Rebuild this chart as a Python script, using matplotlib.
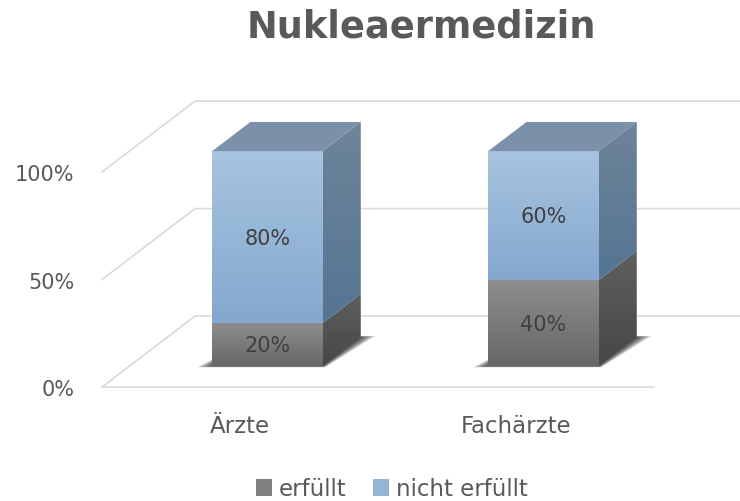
import numpy as np
import matplotlib.pyplot as plt
from matplotlib.patches import Polygon, Patch
from matplotlib.colors import LinearSegmentedColormap

# data
categories = ["Ärzte", "Fachärzte"]
erfuellt = [20, 40]
nicht_erfuellt = [80, 60]
series_names = ["erfüllt", "nicht erfüllt"]
y_ticks = [0, 50, 100]
tick_labels = ["0%", "50%", "100%"]

# fake 3d: how far one unit of depth shifts in data units
DX = 0.337
DY = 33.0
BAR_W = 0.4
D_FRONT, D_BACK = 0.295, 0.705

gray = {"front": ("#8e8e8e", "#676767"), "side": ("#5f5f5f", "#474747"), "top": "#727272"}
blue = {"front": ("#a7c4e0", "#84a8ce"), "side": ("#6e8499", "#557593"), "top": "#7b91aa"}


def proj(x, v, d):
    return (x + DX * d, v + DY * d)


def face(pts, c_top, c_bot, z):
    poly = Polygon(pts, closed=True, facecolor="none", edgecolor="none", zorder=z)
    ax.add_patch(poly)
    xs = [p[0] for p in pts]
    ys = [p[1] for p in pts]
    cmap = LinearSegmentedColormap.from_list("g", [c_bot, c_top])
    grad = np.linspace(0, 1, 128).reshape(-1, 1)
    im = ax.imshow(grad, cmap=cmap, extent=(min(xs), max(xs), min(ys), max(ys)),
                   origin="lower", aspect="auto", interpolation="bilinear", zorder=z)
    im.set_clip_path(poly)


fig = plt.figure(figsize=(7.4, 5.01), dpi=100)
ax = fig.add_axes([0, 0, 1, 1])
ax.axis("off")

# gridlines: left wall diagonal + back wall line
x_left = -0.5
x_right = len(categories) - 0.5
for v in y_ticks:
    a = proj(x_left, v, 0)
    b = proj(x_left, v, 1)
    c = proj(x_right, v, 1)
    ax.plot([a[0], b[0], c[0]], [a[1], b[1], c[1]], color="#dadada", lw=1.2, zorder=1)
a = proj(x_left, 0, 0)
b = proj(x_right, 0, 0)
ax.plot([a[0], b[0]], [a[1], b[1]], color="#dadada", lw=1.2, zorder=1)

# tick labels
for v, lbl in zip(y_ticks, tick_labels):
    ax.annotate(lbl, xy=proj(x_left, v, 0), xytext=(-20, -6.5), textcoords="offset points",
                ha="right", va="baseline", fontsize=15, color="#595959")

# bars
for i in range(len(categories)):
    x0, x1 = i - BAR_W / 2, i + BAR_W / 2

    # soft shadow on the floor, many faint layers
    n = 14
    for k in range(n):
        e = 0.05 * (n - k) / n
        pts = [proj(x0 - e, 0, D_FRONT - e * 0.35), proj(x1 + e * 0.3, 0, D_FRONT - e * 0.35),
               proj(x1 + e, 0, D_BACK + e * 0.3), proj(x0 + e * 0.3, 0, D_BACK + e * 0.3)]
        ax.add_patch(Polygon(pts, closed=True, facecolor="black", edgecolor="none",
                             alpha=0.07, zorder=2))

    bottom = 0
    segs = [(erfuellt[i], gray), (nicht_erfuellt[i], blue)]
    for j, (val, col) in enumerate(segs):
        v0, v1 = bottom, bottom + val
        front = [proj(x0, v0, D_FRONT), proj(x1, v0, D_FRONT), proj(x1, v1, D_FRONT), proj(x0, v1, D_FRONT)]
        side = [proj(x1, v0, D_FRONT), proj(x1, v0, D_BACK), proj(x1, v1, D_BACK), proj(x1, v1, D_FRONT)]
        face(front, col["front"][0], col["front"][1], 3)
        face(side, col["side"][0], col["side"][1], 3)
        if j == len(segs) - 1:
            top = [proj(x0, v1, D_FRONT), proj(x1, v1, D_FRONT), proj(x1, v1, D_BACK), proj(x0, v1, D_BACK)]
            ax.add_patch(Polygon(top, closed=True, facecolor=col["top"], edgecolor="none", zorder=3))
        ax.annotate(f"{val}%", xy=proj(i, (v0 + v1) / 2, D_FRONT), xytext=(0, -5.5),
                    textcoords="offset points", ha="center", va="baseline",
                    fontsize=15, color="#404040", zorder=5)
        bottom = v1

    ax.annotate(categories[i], xy=proj(i, 0, 0), xytext=(0, -33), textcoords="offset points",
                ha="center", va="baseline", fontsize=16.5, color="#595959")

ax.set_xlim(-0.8696, 1.8116)
ax.set_ylim(-53.0, 180.0)

fig.text(421 / 740, 1 - 38 / 501, "Nukleaermedizin", ha="center", va="baseline",
         fontsize=26.5, fontweight="bold", color="#595959")

handles = [Patch(facecolor="#7f7f7f"), Patch(facecolor="#95b4d6")]
fig.legend(handles, series_names, loc="center", bbox_to_anchor=(392 / 740, 1 - 489 / 501),
           ncol=2, frameon=False, fontsize=16.5, handlelength=0.7, handleheight=0.7,
           handletextpad=0.3, columnspacing=1.15, labelcolor="#595959")

fig.savefig("out.png", dpi=100)
